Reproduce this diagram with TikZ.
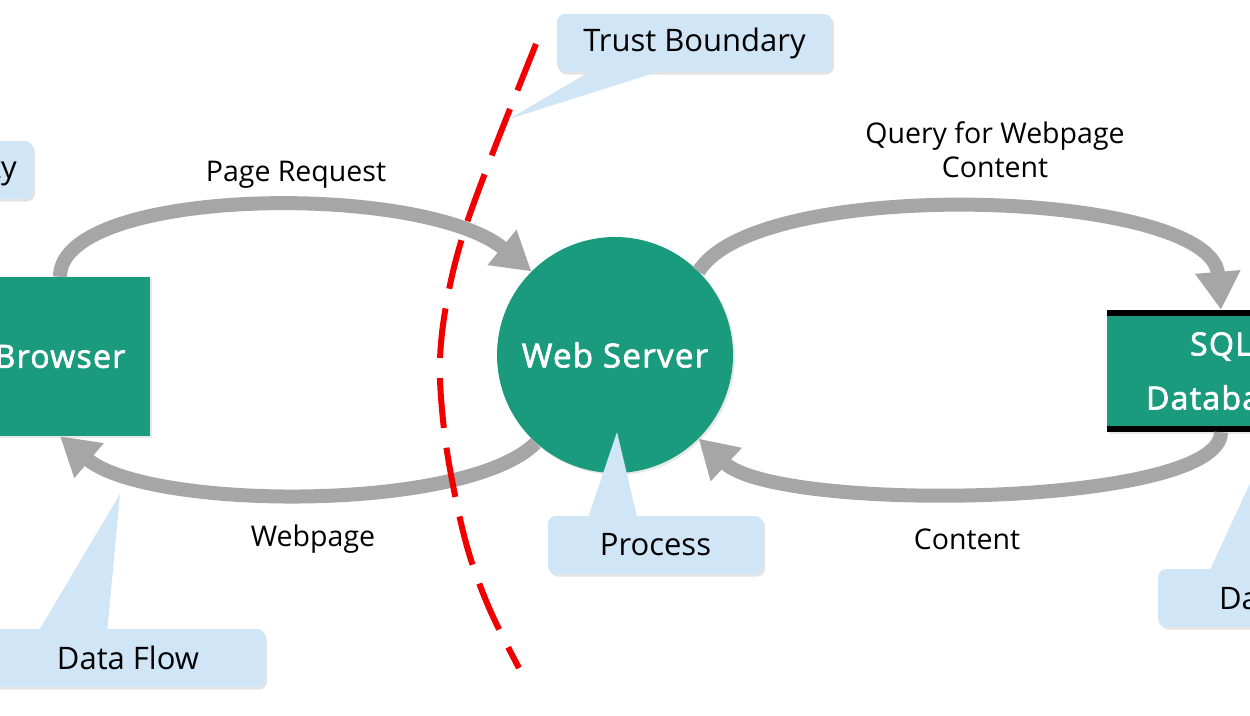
\documentclass[tikz,border=0pt]{standalone}
\usepackage{fontspec}
\setmainfont{Open Sans}
\newfontfamily\medfont[FakeBold=2.2, LetterSpace=4]{Open Sans}
\usetikzlibrary{arrows.meta,shadows}
\definecolor{dfdgreen}{HTML}{1B9B7D}
\definecolor{flowgray}{HTML}{A6A6A6}
\definecolor{callblue}{HTML}{D0E5F5}
\definecolor{tbred}{HTML}{F20000}
\begin{document}
\begin{tikzpicture}[x=1pt,y=-1pt,
  flow/.style={draw=flowgray, line width=14pt, -{Triangle[length=38pt,width=43pt]}},
  greenbox/.style={fill=dfdgreen, text=white, font=\medfont\fontsize{32}{54}\selectfont, align=center, inner sep=0pt,
     drop shadow={shadow xshift=2pt, shadow yshift=-2pt, opacity=0.18}},
  callbox/.style={fill=callblue, rounded corners=8pt, text=black, inner sep=0pt, minimum height=58pt,
     font=\fontsize{31}{38}\selectfont,
     drop shadow={shadow xshift=2pt, shadow yshift=-2.5pt, opacity=0.22}},
  pointer/.style={fill=callblue},
  flowlabel/.style={text=black, font=\fontsize{28.5}{34}\selectfont, align=center, inner sep=0pt},
  tbline/.style={draw=tbred, line width=6pt, dash pattern=on 50pt off 20pt}]
\useasboundingbox (0,0) rectangle (1250,715);
\begin{scope}
\clip (0,0) rectangle (1250,715);

% main elements
\node[greenbox, minimum width=180pt, minimum height=159pt] (browser) at (60,356.5) {Browser};
\node[greenbox, circle, minimum size=236pt, font=\medfont\fontsize{33}{40}\selectfont] (ws) at (615,355) {Web Server};
\node[greenbox, minimum width=228pt, minimum height=122pt] (sql) at (1221,371) {SQL\\Database};
\draw[line width=6pt] ([yshift=-3pt]sql.north west) -- ([yshift=-3pt]sql.north east);
\draw[line width=6pt] ([yshift=3pt]sql.south west) -- ([yshift=3pt]sql.south east);

% data flows
\draw[flow] (browser.north) .. controls +(0,-90) and +(-110,-90) .. (ws.135);
\draw[flow] (ws.228) .. controls +(-70,70) and +(88,74) .. (browser.south);
\draw[flow] (ws.45) .. controls +(60,-97) and +(-10,-120) .. (sql.north);
\draw[flow] (sql.south) .. controls +(0,75) and +(80,75) .. (ws.315);

% flow labels
\node[flowlabel] (lpr) at (296,175) {Page Request};
\node[flowlabel] (lwp) at (313,539) {Webpage};
\node[flowlabel] (lq) at (995,150) {Query for Webpage\\Content};
\node[flowlabel] (lc) at (967,539) {Content};

% trust boundary
\draw[tbline] plot[smooth, tension=0.6] coordinates {(536,44) (520,84) (490,160) (463,235) (447,300) (440,360) (443,420) (452,480) (468,550) (490,610) (519,668)};

% callouts
\coordinate (tbtip) at (509,119);
\node[callbox, minimum width=275pt] (tb) at (694.5,43) {Trust Boundary};
\fill[pointer] ([xshift=-97pt,yshift=5pt]tb.south) -- ([xshift=-22pt,yshift=5pt]tb.south) -- (tbtip) -- cycle;

\node[callbox, anchor=east, inner xsep=16pt] (ee) at (33,170) {External Entity};

\coordinate (dftip) at (120,494);
\node[callbox, minimum width=274pt] (df) at (128,658) {Data Flow};
\fill[pointer] ([xshift=-91pt,yshift=-5pt]df.north) -- ([xshift=-21pt,yshift=-5pt]df.north) -- (dftip) -- cycle;

\coordinate (prtip) at (617,432);
\node[callbox, minimum width=215pt] (pr) at (655.5,545) {Process};
\fill[pointer] ([xshift=-68.5pt,yshift=-5pt]pr.north) -- ([xshift=-17.5pt,yshift=-5pt]pr.north) -- (prtip) -- cycle;

\coordinate (dstip) at (1270,440);
\node[callbox, minimum width=274pt, anchor=west] (ds) at (1158,598) {Data Store};
\fill[pointer] ([xshift=-87pt,yshift=-5pt]ds.north) -- ([xshift=-15pt,yshift=-5pt]ds.north) -- (dstip) -- cycle;
\end{scope}
\end{tikzpicture}
\end{document}
